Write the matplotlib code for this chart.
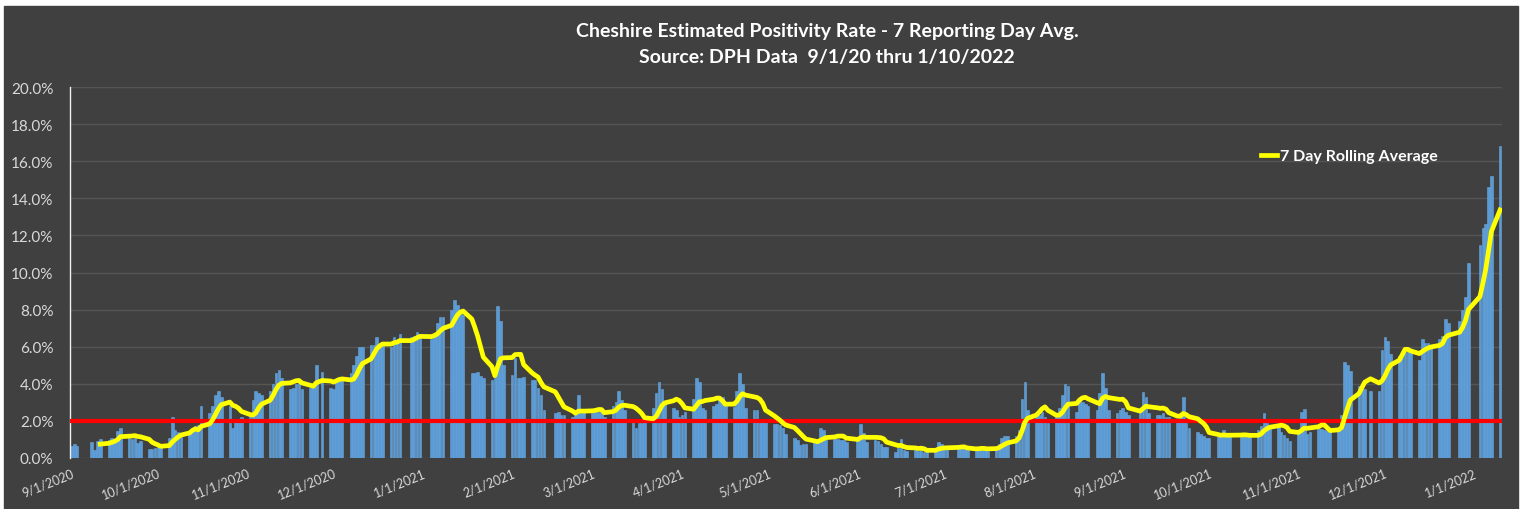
import matplotlib
matplotlib.use("Agg")
from matplotlib import pyplot as plt
from matplotlib.patches import Rectangle
import numpy as np
import pandas as pd

nan = np.nan

# daily positivity (%) per reporting day, one row per week Mon..Fri, first row = week of 8/31/2020
week_rates = [
    [nan, 0.65, 0.75, 0.65, nan],
    [nan, 0.85, 0.45, 0.9, 1.0],
    [0.95, 1.1, 1.05, 1.45, 1.6],
    [1.1, 1.05, 1.1, 0.8, 0.9],
    [0.5, 0.5, 0.55, 0.6, 0.55],
    [1.1, 2.2, 1.5, 1.4, 1.3],
    [1.4, 1.5, 1.7, 1.8, 2.8],
    [2.4, 2.8, 3.4, 3.6, 3.3],
    [2.8, 1.6, 2.0, 2.1, 2.2],
    [2.4, 3.1, 3.6, 3.5, 3.4],
    [3.6, 4.0, 4.6, 4.75, 4.3],
    [3.7, 3.8, 4.0, 4.1, 3.7],
    [3.8, 4.0, 5.0, nan, 4.65],
    [3.8, 3.7, 4.2, 4.3, 4.2],
    [4.6, 5.0, 5.5, 6.0, 6.0],
    [6.1, 6.1, 6.5, 6.1, 6.2],
    [6.0, 6.5, 6.3, 6.7, nan],
    [6.5, 6.6, 6.8, 6.5, nan],
    [6.4, 6.7, 7.3, 7.6, 7.6],
    [8.0, 8.5, 8.25, 7.8, 7.7],
    [4.6, 4.6, 4.65, 4.4, 4.3],
    [4.2, 4.3, 8.2, 7.4, 5.0],
    [4.5, 5.4, 4.3, 4.3, 4.35],
    [4.2, 4.2, 3.8, 3.4, 2.6],
    [nan, 2.4, 2.5, 2.3, 2.3],
    [2.2, 2.6, 3.4, 2.4, 2.5],
    [2.4, 2.5, 2.5, 2.6, 2.2],
    [2.8, 3.0, 3.6, 3.1, 2.6],
    [2.1, 1.6, 1.9, 1.9, 2.0],
    [2.7, 3.5, 4.1, 3.7, 2.9],
    [2.7, 2.6, 2.2, 2.3, 2.5],
    [3.2, 4.3, 4.1, 2.7, 2.6],
    [2.8, 2.9, 3.2, 3.3, 2.8],
    [2.75, 3.6, 4.6, 4.0, 2.7],
    [2.6, 2.6, 2.1, 2.05, 2.0],
    [1.85, 1.85, 1.8, 1.6, 1.3],
    [1.1, 0.95, 0.7, 0.75, 0.75],
    [0.9, 1.0, 1.6, 1.5, 1.2],
    [1.0, 1.05, 0.95, 0.95, 0.85],
    [nan, 1.0, 1.85, 1.35, 0.85],
    [0.95, 0.9, 0.75, 0.6, 0.6],
    [0.35, 0.55, 1.0, 0.45, 0.4],
    [0.45, 0.4, 0.45, 0.35, 0.4],
    [0.45, 0.85, 0.75, 0.55, 0.5],
    [nan, 0.5, 0.55, 0.5, 0.45],
    [0.4, 0.6, 0.65, 0.45, 0.4],
    [0.6, 0.75, 1.1, 1.2, 1.2],
    [1.2, 1.5, 3.2, 4.1, 2.6],
    [2.4, 2.3, 2.5, 2.2, 1.9],
    [2.2, 2.7, 3.4, 4.0, 3.9],
    [2.5, 3.2, 3.0, 2.9, 2.8],
    [2.6, 3.5, 4.6, 3.8, 2.6],
    [2.4, 2.6, 2.7, 2.5, 2.3],
    [nan, 2.6, 3.55, 3.3, 2.4],
    [2.3, 2.3, 2.4, 2.2, 2.2],
    [2.0, 2.4, 3.3, 1.9, 1.6],
    [1.4, 1.3, 1.2, 1.1, 1.1],
    [1.2, 1.3, 1.5, 1.2, 1.2],
    [nan, 1.15, 1.2, 1.15, 1.15],
    [1.5, 1.7, 2.4, 1.9, 1.8],
    [1.7, 1.4, 1.25, 1.1, 0.9],
    [1.5, 2.5, 2.65, 1.3, 1.4],
    [1.55, 1.55, 1.5, 1.45, 1.6],
    [1.6, 2.3, 5.2, 5.0, 4.7],
    [3.9, 3.8, 3.7, nan, 3.6],
    [3.6, 5.8, 6.5, 6.3, 5.6],
    [5.5, 5.6, 5.7, 5.8, 5.9],
    [5.3, 6.4, 6.2, 6.2, 6.1],
    [6.4, 6.6, 7.5, 7.3, nan],
    [7.4, 8.0, 8.7, 10.5, nan],
    [11.5, 12.4, 12.6, 14.6, 15.2],
    [16.8],
]

threshold = 2.0
title_lines = ["Cheshire Estimated Positivity Rate - 7 Reporting Day Avg.",
               "Source: DPH Data  9/1/20 thru 1/10/2022"]

rates = [v for wk in week_rates for v in wk]
dates = pd.bdate_range("2020-08-31", periods=len(rates))
s = pd.Series(rates, index=dates).dropna()
avg = s.rolling(7).mean().dropna()

tick_dates = pd.date_range("2020-09-01", "2022-01-01", freq="MS")
tick_labels = [f"{d.month}/{d.day}/{d.year}" for d in tick_dates]

W, H = 1523, 510
fig = plt.figure(figsize=(W / 100, H / 100), dpi=100, facecolor="white")
fig.patches.append(Rectangle((4 / W, 0), (1518 - 4) / W, (H - 7) / H,
                             transform=fig.transFigure, color="#404040", zorder=-1))

ax = fig.add_axes([70 / W, 1 - 459 / H, (1502 - 70) / W, (459 - 88) / H])
ax.set_facecolor("none")

ax.bar(s.index, s.values, width=0.9, color="#5b9bd5", edgecolor="#6aa5dc",
       linewidth=0.4, zorder=2)
ax.plot(avg.index, avg.values, color="#ffff00", lw=3.4, zorder=4,
        solid_joinstyle="round", label="7 Day Rolling Average")
ax.axhline(threshold, color="#ff0000", lw=3.0, zorder=3)

ax.set_ylim(0, 20)
ax.set_yticks(np.arange(0, 21, 2))
ax.set_yticklabels([f"{v:.1f}%" for v in np.arange(0, 21, 2)])
ax.set_xlim(pd.Timestamp("2020-09-01") - pd.Timedelta(hours=12),
            pd.Timestamp("2022-01-10") + pd.Timedelta(hours=16))
ax.set_xticks(tick_dates)
ax.set_xticklabels(tick_labels, rotation=22, ha="right", rotation_mode="anchor")

ax.grid(axis="y", color="#555555", lw=1, zorder=0)
for side in ["top", "right", "bottom"]:
    ax.spines[side].set_visible(False)
ax.spines["left"].set_color("#f0f0f0")
ax.spines["left"].set_linewidth(1)
ax.tick_params(axis="y", length=0, pad=12, labelcolor="#d9d9d9", labelsize=11)
ax.tick_params(axis="x", length=0, pad=6, labelcolor="#d9d9d9", labelsize=9)
for lbl in ax.get_xticklabels() + ax.get_yticklabels():
    lbl.set_fontfamily("Lato")

leg = ax.legend(loc="center left", bbox_to_anchor=(0.822, 0.814), frameon=False,
                handlelength=1.0, handletextpad=0.15,
                prop={"family": "Lato", "weight": "bold", "size": 11.5})
for t in leg.get_texts():
    t.set_color("white")

fig.text(827 / W, 1 - 32 / H, title_lines[0], ha="center", va="center",
         color="white", fontsize=14, fontweight="bold", family="Lato")
fig.text(827 / W, 1 - 58 / H, title_lines[1], ha="center", va="center",
         color="white", fontsize=14, fontweight="bold", family="Lato")

fig.savefig("out.png", dpi=100, facecolor=fig.get_facecolor())
